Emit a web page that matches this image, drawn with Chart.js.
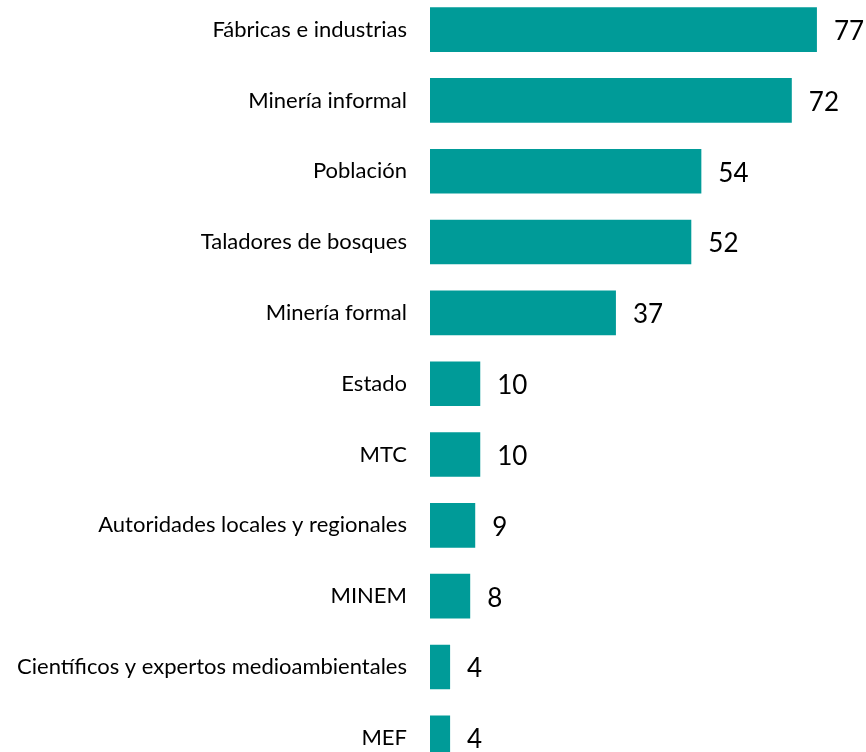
<!DOCTYPE html>
<html><head><meta charset="utf-8">
<script src="https://cdn.jsdelivr.net/npm/chart.js@4/dist/chart.umd.min.js"></script>
<style>
html,body{margin:0;padding:0;background:#fff;overflow:hidden;width:866px;height:752px;}
#wrap{position:absolute;left:0;top:-42.2px;width:866px;height:851.4px;}
</style></head>
<body>
<div id="wrap"><canvas id="c"></canvas></div>
<script>
const categories = ["Fábricas e industrias","Minería informal","Población","Taladores de bosques","Minería formal","Estado","MTC","Autoridades locales y regionales","MINEM","Científicos y expertos medioambientales","MEF"];
const values = [77,72,54,52,37,10,10,9,8,4,4];
const barColor = "#009B98";
const FONT = "Lato, 'Open Sans', sans-serif";

const valueLabels = {
  id:'valueLabels',
  afterDatasetsDraw(chart){
    const ctx = chart.ctx;
    const meta = chart.getDatasetMeta(0);
    ctx.save();
    ctx.fillStyle = '#000';
    ctx.font = '26px ' + FONT;
    ctx.textAlign = 'left';
    ctx.textBaseline = 'middle';
    meta.data.forEach((bar,i)=>{
      ctx.fillText(String(values[i]), bar.x + 17, bar.y + 2);
    });
    ctx.restore();
  }
};

new Chart(document.getElementById('c'),{
  type:'bar',
  data:{labels:categories,datasets:[{data:values,backgroundColor:barColor,borderWidth:0,barPercentage:0.63,categoryPercentage:1}]},
  options:{
    indexAxis:'y',
    responsive:true,maintainAspectRatio:false,animation:false,
    layout:{padding:{left:0,right:34,top:0,bottom:0}},
    plugins:{legend:{display:false},tooltip:{enabled:false}},
    scales:{
      x:{display:false,min:0,max:80},
      y:{
        grid:{display:false,drawTicks:false},
        border:{display:false},
        ticks:{padding:23,color:'#000',font:{family:FONT,size:22}},
        afterFit(scale){scale.width=430;}
      }
    }
  },
  plugins:[valueLabels]
});
</script>
</body></html>
